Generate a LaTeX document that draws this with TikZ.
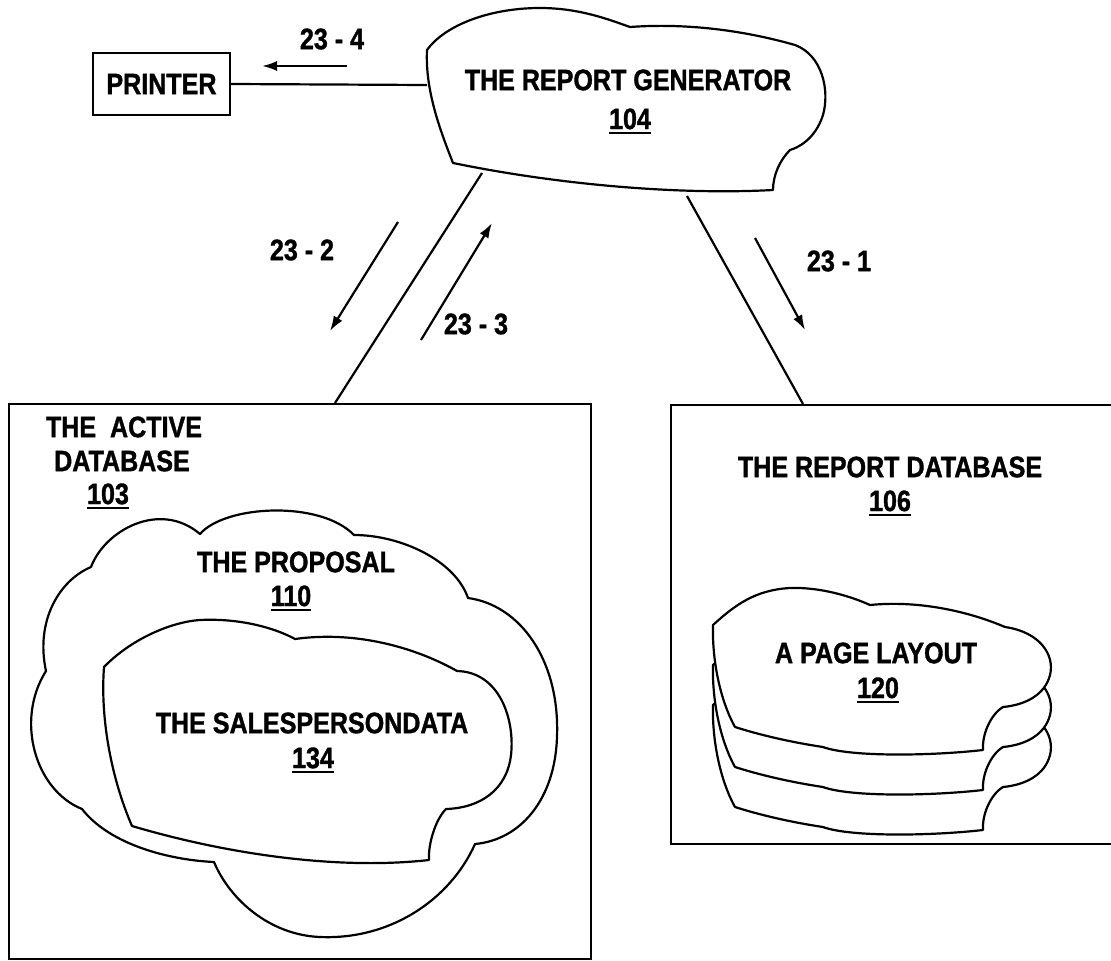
\documentclass[tikz,border=0pt]{standalone}
\usepackage{fontspec}
\setmainfont{Liberation Sans}[FakeStretch=0.85, BoldFeatures={FakeBold=1.2}]
\usetikzlibrary{arrows.meta}
\newcommand\ulnum[1]{\setbox0\hbox{#1}\makebox[0pt][l]{\rule[-4.5pt]{\wd0}{2pt}}\box0}
\begin{document}
\begin{tikzpicture}[x=1pt,y=-1pt,
  ln/.style={line width=2.2pt, line join=round},
  shp/.style={line width=2.2pt, line join=round, fill=white},
  txt/.style={font=\bfseries\fontsize{29.5}{34}\selectfont, inner sep=0pt},
  arr/.style={line width=2.2pt, -{Latex[length=15pt,width=10pt]}},
  boxnode/.style={draw, line width=2.4pt, inner sep=0pt}]
\useasboundingbox (0,0) rectangle (1111,961);
\clip (0,0) rectangle (1111,961);

% boxes
\node[boxnode, anchor=north west, minimum width=582pt, minimum height=555pt] (active) at (8,403) {};
\node[boxnode, anchor=north west, minimum width=460pt, minimum height=439pt] (report) at (670,404) {};
\node[boxnode, minimum width=137pt, minimum height=62pt, txt] (printer) at (161.5,84) {PRINTER};

% report generator cloud
\draw[shp] (427,50) .. controls (445,25) and (490,8) .. (540,8)
  .. controls (580,8) and (610,20) .. (630,27)
  .. controls (700,22) and (760,35) .. (795,45)
  .. controls (822,55) and (830,90) .. (823,115)
  .. controls (815,140) and (797,148) .. (790,150)
  .. controls (780,160) and (773,175) .. (773,190)
  .. controls (680,195) and (560,185) .. (453,163)
  .. controls (440,130) and (425,90) .. (427,50) -- cycle;
\coordinate (rgw) at (427,85);
\coordinate (rgsw) at (482,173);
\coordinate (rgse) at (687,196);
\node[txt] (rgt) at (628,80) {THE REPORT GENERATOR};
\node[txt] (rgn) at (630,121) {\ulnum{104}};

% connectors
\draw[ln] (printer.east) -- (rgw);
\coordinate (acttop) at (335,403);
\coordinate (reptop) at (803,404);
\draw[ln] (rgsw) -- (acttop);
\draw[ln] (rgse) -- (reptop);

% arrows and labels
\coordinate (a4s) at (347,66); \coordinate (a4e) at (262,66);
\draw[arr] (a4s) -- (a4e);
\node[txt] (l4) at (332,39) {23 - 4};
\coordinate (a2s) at (398,222); \coordinate (a2e) at (330,331);
\draw[arr] (a2s) -- (a2e);
\node[txt] (l2) at (302,250) {23 - 2};
\coordinate (a3s) at (421,340); \coordinate (a3e) at (492,223);
\draw[arr] (a3s) -- (a3e);
\node[txt] (l3) at (476,324) {23 - 3};
\coordinate (a1s) at (755,238); \coordinate (a1e) at (805,330);
\draw[arr] (a1s) -- (a1e);
\node[txt] (l1) at (839,261) {23 - 1};

% active database texts
\node[txt] (adb1) at (124,427) {THE\ \ ACTIVE};
\node[txt] (adb2) at (122,461) {DATABASE};
\node[txt] (adb3) at (108,496) {\ulnum{103}};

% proposal cloud
\draw[shp] (91,567) .. controls (105,530) and (160,500) .. (200,534)
  .. controls (225,505) and (320,500) .. (354,535)
  .. controls (400,535) and (455,560) .. (468,598)
  .. controls (520,605) and (560,660) .. (557,737)
  .. controls (555,800) and (520,840) .. (475,844)
  .. controls (450,900) and (390,940) .. (320,937)
  .. controls (270,935) and (230,900) .. (214,862)
  .. controls (170,860) and (110,845) .. (82,809)
  .. controls (35,790) and (15,720) .. (46,671)
  .. controls (35,620) and (60,580) .. (91,567) -- cycle;
\node[txt] (prop1) at (296,562) {THE PROPOSAL};
\node[txt] (prop2) at (291,598) {\ulnum{110}};

% salesperson cloud
\draw[shp] (104,667) .. controls (130,640) and (170,622) .. (200,620)
  .. controls (240,618) and (275,628) .. (295,639)
  .. controls (360,630) and (420,650) .. (457,671)
  .. controls (500,672) and (515,720) .. (511,755)
  .. controls (507,790) and (480,808) .. (446,809)
  .. controls (435,820) and (428,845) .. (429,860)
  .. controls (340,870) and (230,855) .. (132,826)
  .. controls (112,780) and (100,720) .. (104,667) -- cycle;
\node[txt] (sp1) at (312,723) {THE SALESPERSONDATA};
\node[txt] (sp2) at (313,760) {\ulnum{134}};

% report database texts
\node[txt] (rdb1) at (890,467) {THE REPORT DATABASE};
\node[txt] (rdb2) at (890,503) {\ulnum{106}};

% page layout stack
\foreach \dy in {80,40,0}{
\draw[shp, yshift=-\dy pt] (713,625) .. controls (735,605) and (755,590) .. (790,588)
  .. controls (820,587) and (850,596) .. (870,605)
  .. controls (920,600) and (970,612) .. (1005,627)
  .. controls (1040,632) and (1055,655) .. (1050,675)
  .. controls (1045,695) and (1025,705) .. (1003,707)
  .. controls (990,715) and (982,735) .. (983,750)
  .. controls (930,756) and (850,757) .. (823,747)
  .. controls (790,742) and (760,735) .. (735,727)
  .. controls (720,700) and (712,660) .. (713,625) -- cycle;
}
\node[txt] (pl1) at (876,653) {A PAGE LAYOUT};
\node[txt] (pl2) at (878,690) {\ulnum{120}};
\end{tikzpicture}
\end{document}
